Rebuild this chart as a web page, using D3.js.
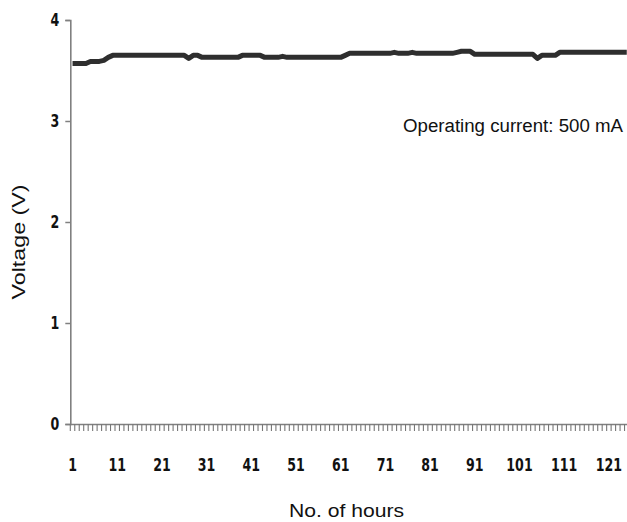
<!DOCTYPE html>
<html>
<head>
<meta charset="utf-8">
<script src="https://cdn.jsdelivr.net/npm/d3@7"></script>
<style>
  body { margin: 0; background: #fff; }
  .tick-label { font-family: 'DejaVu Sans', sans-serif; font-weight: bold; font-size: 18px; fill: #111; }
  .title { font-family: 'Liberation Sans', Arial, sans-serif; fill: #111; }
</style>
</head>
<body>
<div id="chart-area"></div>
<script>
// hours 1..125 (categories)
const hours = d3.range(1, 126);
// voltage, one per hour
const voltage = [
  3.57, 3.57, 3.57, 3.57, 3.59, 3.59, 3.59, 3.60, 3.63, 3.65,
  3.65, 3.65, 3.65, 3.65, 3.65, 3.65, 3.65, 3.65, 3.65, 3.65,
  3.65, 3.65, 3.65, 3.65, 3.65, 3.65, 3.62, 3.65, 3.65, 3.63,
  3.63, 3.63, 3.63, 3.63, 3.63, 3.63, 3.63, 3.63, 3.65, 3.65,
  3.65, 3.65, 3.65, 3.63, 3.63, 3.63, 3.63, 3.64, 3.63, 3.63,
  3.63, 3.63, 3.63, 3.63, 3.63, 3.63, 3.63, 3.63, 3.63, 3.63,
  3.63, 3.65, 3.67, 3.67, 3.67, 3.67, 3.67, 3.67, 3.67, 3.67,
  3.67, 3.67, 3.68, 3.67, 3.67, 3.67, 3.68, 3.67, 3.67, 3.67,
  3.67, 3.67, 3.67, 3.67, 3.67, 3.67, 3.68, 3.69, 3.69, 3.69,
  3.66, 3.66, 3.66, 3.66, 3.66, 3.66, 3.66, 3.66, 3.66, 3.66,
  3.66, 3.66, 3.66, 3.66, 3.62, 3.65, 3.65, 3.65, 3.65, 3.68,
  3.68, 3.68, 3.68, 3.68, 3.68, 3.68, 3.68, 3.68, 3.68, 3.68,
  3.68, 3.68, 3.68, 3.68, 3.68
];
const yTicks = [0, 1, 2, 3, 4];
const xLabels = [1, 11, 21, 31, 41, 51, 61, 71, 81, 91, 101, 111, 121];

const W = 627, H = 522;
const plot = {left: 70.3, right: 629, top: 20, bottom: 424};
const squeeze = 0.7; // tick digits are narrow in the original

const svg = d3.select('#chart-area')
  .append('svg')
  .attr('width', W)
  .attr('height', H);

const x = d3.scaleBand()
  .domain(hours)
  .range([plot.left, plot.right])
  .padding(0);

const y = d3.scaleLinear()
  .domain([0, 4])
  .range([plot.bottom, plot.top]);

// Y axis
const yAxis = svg.append('g')
  .attr('transform', `translate(${plot.left}, 0)`)
  .call(d3.axisLeft(y).tickValues(yTicks).tickSize(5).tickFormat(d3.format('d')));
yAxis.select('.domain').attr('stroke', '#808080').attr('stroke-width', 1.6);
yAxis.selectAll('.tick line').attr('stroke', '#808080').attr('stroke-width', 1.5);
yAxis.selectAll('.tick text')
  .attr('class', 'tick-label')
  .attr('x', 0)
  .attr('transform', `translate(-11, 0) scale(${squeeze}, 1)`);

// X axis: labels only at centers
const xAxis = svg.append('g')
  .attr('transform', `translate(0, ${plot.bottom})`)
  .call(d3.axisBottom(x).tickValues(xLabels).tickSize(0).tickPadding(34));
xAxis.select('.domain').attr('stroke', '#808080').attr('stroke-width', 1.6);
xAxis.selectAll('.tick text')
  .attr('class', 'tick-label')
  .attr('transform', `scale(${squeeze}, 1)`);

// tick marks at category boundaries
const bounds = hours.map(h => x(h));
svg.append('g')
  .selectAll('line')
  .data(bounds)
  .enter()
  .append('line')
  .attr('x1', d => d)
  .attr('x2', d => d)
  .attr('y1', plot.bottom)
  .attr('y2', plot.bottom + 7)
  .attr('stroke', '#777')
  .attr('stroke-width', 1.1);

// voltage line
const line = d3.line()
  .x((d, i) => x(hours[i]) + x.bandwidth() / 2)
  .y(d => y(d));

svg.append('path')
  .datum(voltage)
  .attr('fill', 'none')
  .attr('stroke', '#2e2e2e')
  .attr('stroke-width', 5)
  .attr('stroke-linejoin', 'round')
  .attr('d', line);

// annotation
svg.append('text')
  .attr('class', 'title')
  .attr('x', 403)
  .attr('y', 132)
  .attr('font-size', '18px')
  .attr('textLength', 220)
  .attr('lengthAdjust', 'spacingAndGlyphs')
  .text('Operating current: 500 mA');

// axis titles
svg.append('text')
  .attr('class', 'title')
  .attr('transform', 'rotate(-90)')
  .attr('x', -242)
  .attr('y', 25)
  .attr('text-anchor', 'middle')
  .attr('font-size', '19px')
  .attr('textLength', 115)
  .attr('lengthAdjust', 'spacingAndGlyphs')
  .text('Voltage (V)');

svg.append('text')
  .attr('class', 'title')
  .attr('x', 346.5)
  .attr('y', 517)
  .attr('text-anchor', 'middle')
  .attr('font-size', '19px')
  .attr('textLength', 115)
  .attr('lengthAdjust', 'spacingAndGlyphs')
  .text('No. of hours');
</script>
</body>
</html>
